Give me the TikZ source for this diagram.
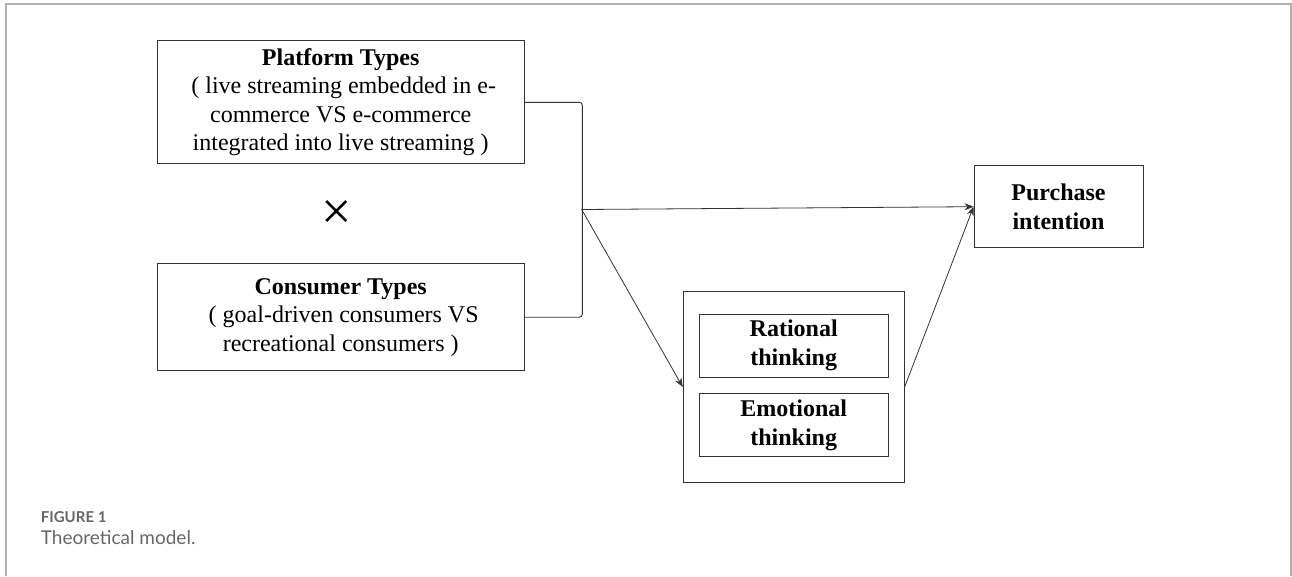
\documentclass[tikz,border=0pt]{standalone}
\usepackage{fontspec}
\setmainfont{Liberation Serif}
\newfontfamily\capfont{Lato}
\usepackage{xcolor}
\usepackage{tikz}
\usetikzlibrary{arrows.meta,positioning}

\begin{document}
\begin{tikzpicture}[
    x=1pt, y=1pt,
    factor/.style={rectangle, draw=black!80, line width=0.9pt, minimum width=367pt, inner sep=0pt, align=center, font=\fontsize{24}{28.5}\selectfont},
    thinking/.style={rectangle, draw=black!80, line width=0.9pt, minimum width=189pt, minimum height=63pt, inner sep=0pt, align=center, font=\bfseries\fontsize{24}{28.5}\selectfont},
    arrow/.style={-{Stealth[length=9pt,width=7pt]}, draw=black!80, line width=0.8pt},
    caption/.style={anchor=base west, inner sep=0pt, text=black!60}
]
\useasboundingbox (0,0) rectangle (1292,-576);

% Frame
\draw[black!30, line width=1.5pt] (6,-576) -- (6,-4) -- (1291,-4) -- (1291,-576);

% Factors
\node[factor, minimum height=123pt] (platform) at (340.7,-102.3) {\textbf{Platform Types}\\\ ( live streaming embedded in e-\\commerce VS e-commerce\\integrated into live streaming )};
\node[factor, minimum height=107pt, below=99pt of platform] (consumer) {\textbf{Consumer Types}\\\ ( goal-driven consumers VS\\recreational consumers )};
\node[font=\fontsize{54}{54}\selectfont] (times) at (337,-215) {×};

% Outcome
\node[factor, minimum width=169pt, minimum height=82pt] (purchase) at (1058.5,-206.7) {\textbf{Purchase}\\\textbf{intention}};

% Mediators
\node[rectangle, draw=black!80, line width=0.9pt, minimum width=221pt, minimum height=191pt] (mediator) at (793.7,-387) {};
\node[thinking, below=22.5pt of mediator.north] (rational) {Rational\\thinking};
\node[thinking, below=16pt of rational] (emotional) {Emotional\\thinking};

% Bracket and arrows
\draw[black!80, line width=0.9pt, rounded corners=3pt] (platform.east) -- ++(57.7,0) |- (consumer.east);
\coordinate (join) at (581.7,-209.5);
\draw[arrow] (join) -- (purchase.west);
\draw[arrow] (join) -- (mediator.west);
\draw[arrow] (mediator.east) -- (purchase.west);

% Caption
\node[caption, font=\capfont\bfseries\fontsize{15}{18}\selectfont] (figlabel) at (40.7,-522.7) {FIGURE 1};
\node[caption, font=\capfont\fontsize{19}{22}\selectfont] (figtitle) at (40.7,-544) {Theoretical model.};

\end{tikzpicture}
\end{document}
